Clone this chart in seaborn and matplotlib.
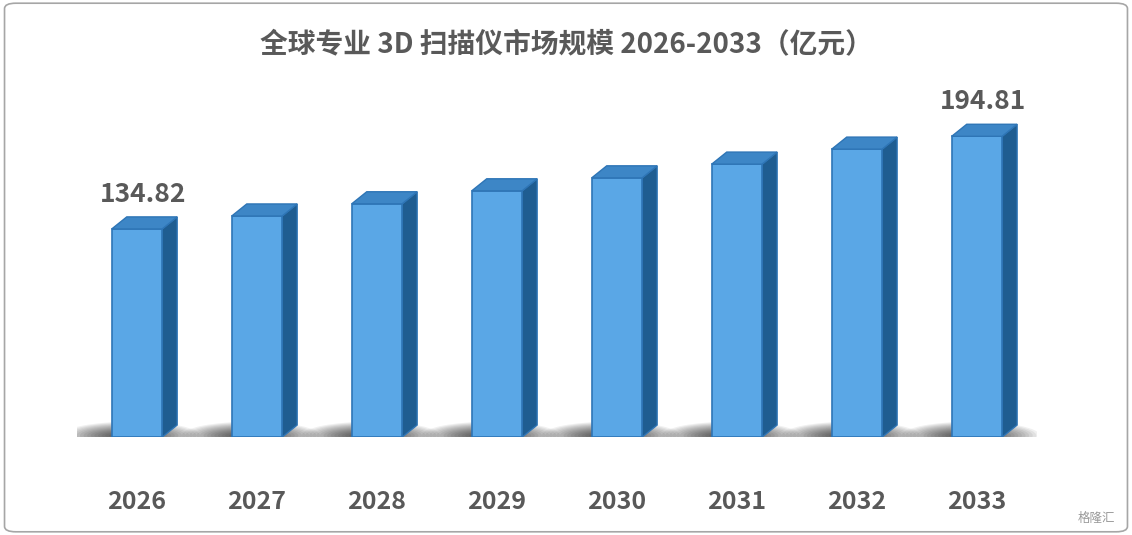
import matplotlib.pyplot as plt
import matplotlib.patches as mpatches
import numpy as np
import pandas as pd
import seaborn as sns

years = ["2026", "2027", "2028", "2029", "2030", "2031", "2032", "2033"]
market = [134.82, 143.2, 151.1, 159.5, 167.9, 176.8, 186.5, 194.81]
labeled = {"2026": "134.82", "2033": "194.81"}

df = pd.DataFrame({"year": years, "value": market})

sns.set_style("white")
plt.rcParams["font.family"] = ["Noto Sans CJK SC", "DejaVu Sans"]

fig = plt.figure(figsize=(11.32, 5.35), dpi=100)
ax = fig.add_axes([0.068, 0.183, 0.848, 0.7215])

sns.barplot(data=df, x="year", y="value", color="#5aa7e6", width=0.42,
            edgecolor="#2e75b6", linewidth=1.2, saturation=1, ax=ax, zorder=3)

dx, dy = 0.125, 7.8
bars = [p for p in ax.patches if isinstance(p, mpatches.Rectangle)][:len(years)]

# floor shadow
for i in range(len(years)):
    for k in range(14):
        ax.add_patch(mpatches.Ellipse((i - 0.05, 1), 1.15 - k * 0.06, 18 - k * 1.1,
                                      color="black", alpha=0.06, lw=0, zorder=1))

for bar in bars:
    x0 = bar.get_x()
    w = bar.get_width()
    h = bar.get_height()
    side = mpatches.Polygon([(x0 + w, 0), (x0 + w + dx, dy), (x0 + w + dx, h + dy), (x0 + w, h)],
                            facecolor="#1f5d91", edgecolor="#2e75b6", lw=1, zorder=2)
    top = mpatches.Polygon([(x0, h), (x0 + dx, h + dy), (x0 + w + dx, h + dy), (x0 + w, h)],
                           facecolor="#3d86c6", edgecolor="#2e75b6", lw=1, zorder=4)
    ax.add_patch(side)
    ax.add_patch(top)

for i, y in enumerate(years):
    if y in labeled:
        ax.text(i + 0.05, market[i] + dy + 6, labeled[y], ha="center", va="bottom",
                fontsize=19, fontweight="bold", color="#595959", zorder=5)

ax.set_xlim(-0.5, 7.5)
ax.set_ylim(0, 250)
ax.set_xlabel("")
ax.set_ylabel("")
ax.set_yticks([])
ax.tick_params(axis="x", length=0, pad=38, labelsize=18, labelcolor="#595959")
for t in ax.get_xticklabels():
    t.set_fontweight("bold")
for s in ax.spines.values():
    s.set_visible(False)
ax.patch.set_alpha(0)

fig.text(0.5, 0.915, "全球专业 3D 扫描仪市场规模 2026-2033（亿元）", ha="center", va="center",
         fontsize=20, fontweight="bold", color="#595959")
fig.text(0.985, 0.03, "格隆汇", ha="right", va="center", fontsize=9, color="#9a9a9a")
fig.patches.append(mpatches.FancyBboxPatch((0.004, 0.006), 0.992, 0.988,
                                           boxstyle="round,pad=0,rounding_size=0.01",
                                           transform=fig.transFigure, fill=False,
                                           edgecolor="#a6a6a6", lw=1.2))

fig.savefig("out.png", dpi=100)
